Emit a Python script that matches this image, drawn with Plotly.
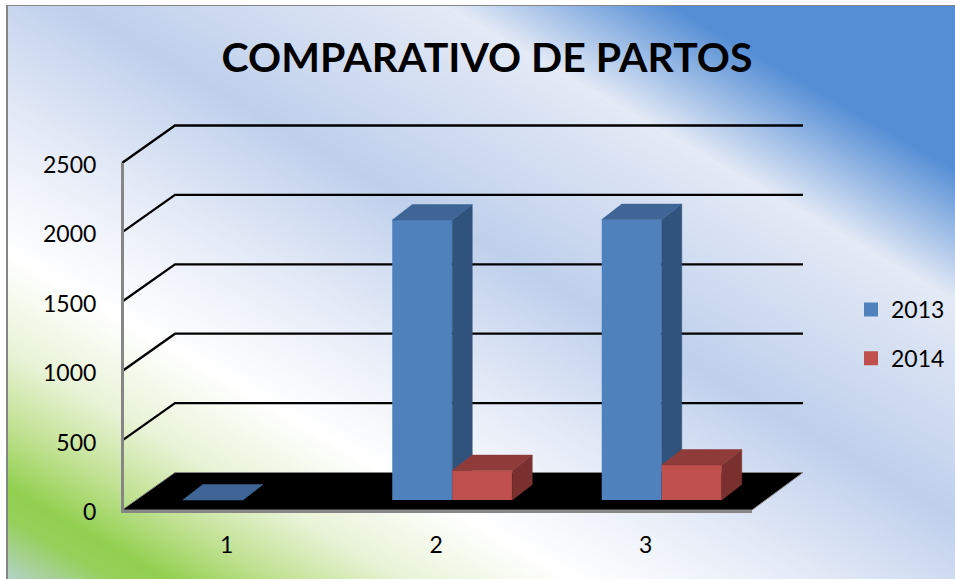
import base64, struct, zlib
import numpy as np
import plotly.graph_objects as go

# ---- data
categories = [1, 2, 3]
series_2013 = [0, 2017, 2020]
series_2014 = [None, 212, 252]
y_ticks = [0, 500, 1000, 1500, 2000, 2500]
title_text = "COMPARATIVO DE PARTOS"

W, H = 955, 579
FONT = "Lato"

# ---- background gradient (diagonal, PowerPoint-like)
stops_t = [-480, -331, -218, -30, 100, 215, 300, 360, 418, 445, 500]
stops_c = [(85,142,213),(85,142,213),(228,234,246),(191,208,236),(229,235,247),(255,255,255),
           (232,243,214),(195,226,150),(146,208,80),(150,208,90),(180,210,205)]
yy, xx = np.mgrid[0:H, 0:W]
t = -0.5 * xx + 0.866 * yy
img = np.stack([np.interp(t, stops_t, [c[i] for c in stops_c]) for i in range(3)], axis=-1)
img = img.round().astype(np.uint8)
img[:5, :] = 255
img[:, :6] = 255
img[5:6, 6:] = (134, 134, 134)
img[5:, 6:8] = (134, 134, 134)

def png_uri(a):
    h, w, _ = a.shape
    raw = b"".join(b"\x00" + a[i].tobytes() for i in range(h))
    def chunk(tag, d):
        return struct.pack(">I", len(d)) + tag + d + struct.pack(">I", zlib.crc32(tag + d) & 0xffffffff)
    png = b"\x89PNG\r\n\x1a\n" + chunk(b"IHDR", struct.pack(">IIBBBBB", w, h, 8, 2, 0, 0, 0)) \
        + chunk(b"IDAT", zlib.compress(raw, 9)) + chunk(b"IEND", b"")
    return "data:image/png;base64," + base64.b64encode(png).decode()

# ---- oblique projection, in axis units
PX_X = 1 / 209.5                        # category units per pixel
PX_Y = 2500 / 347                       # value units per pixel
X0 = 0.5
X1 = X0 + 630 * PX_X
DEPTH_X, DEPTH_Y = 53 * PX_X, 37.5 * PX_Y
BAR_W = 60 * PX_X
BAR_DX, BAR_DY = 20 * PX_X, 15.5 * PX_Y
BAR_BASE = 10 * PX_Y                    # bars stand inside the floor
GROUP_SHIFT = 16 * PX_X
AXIS_GRAY = "#868686"

fig = go.Figure()

# grid: oblique side wall + horizontal back wall (on a hidden full-page axis pair with the same scale)
gx, gy = [], []
for v in y_ticks[1:]:
    gx += [X0, X0 + DEPTH_X, X1 + DEPTH_X - 2 * PX_X, None]
    gy += [v, v + DEPTH_Y, v + DEPTH_Y, None]
fig.add_trace(go.Scatter(x=gx, y=gy, mode="lines", line=dict(color="black", width=2.3),
                         showlegend=False, hoverinfo="skip"))
# floor
fig.add_trace(go.Scatter(x=[X0, X0 + DEPTH_X, X1 + DEPTH_X - 2 * PX_X, X1, X0], y=[0, DEPTH_Y, DEPTH_Y, 0, 0],
                         mode="lines", fill="toself", fillcolor="black", line=dict(color=AXIS_GRAY, width=1),
                         showlegend=False, hoverinfo="skip"))

def add_series(name, values, offset, front, top, side, axis_n):
    xa, ya = f"x{axis_n}", f"y{axis_n}"
    fig.add_trace(go.Bar(name=name, x=categories, y=[None if not v else v - 2 * PX_Y for v in values],
                         base=BAR_BASE + 1 * PX_Y, offset=offset + PX_X, width=BAR_W - 2 * PX_X,
                         marker=dict(color=front, line=dict(color=front, width=2)),
                         xaxis=xa, yaxis=ya, legendgroup=name))
    for c, v in zip(categories, values):
        if v is None:
            continue
        xl = c + offset
        xr = xl + BAR_W
        yt = BAR_BASE + v
        fig.add_trace(go.Scatter(x=[xr, xr + BAR_DX, xr + BAR_DX, xr, xr],
                                 y=[BAR_BASE, BAR_BASE + BAR_DY, yt + BAR_DY, yt, BAR_BASE],
                                 mode="lines", fill="toself", fillcolor=side, line=dict(color=side, width=0.5),
                                 xaxis=xa, yaxis=ya, showlegend=False, hoverinfo="skip"))
        fig.add_trace(go.Scatter(x=[xl, xl + BAR_DX, xr + BAR_DX, xr, xl],
                                 y=[yt, yt + BAR_DY, yt + BAR_DY, yt, yt],
                                 mode="lines", fill="toself", fillcolor=top, line=dict(color=top, width=0.5),
                                 xaxis=xa, yaxis=ya, showlegend=False, hoverinfo="skip"))

add_series("2013", series_2013, GROUP_SHIFT - BAR_W, "#4F81BD", "#3E6595", "#30537D", 2)
add_series("2014", series_2014, GROUP_SHIFT, "#C0504D", "#8F3B39", "#7A302E", 3)

hidden = dict(visible=False, fixedrange=True)
x_dom = [124 / W, 752 / W]
x_rng = [X0 + 2 * PX_X, X1]
y_dom = [1 - 510 / H, 1 - 163 / H]
fig.update_layout(
    width=W, height=H, margin=dict(l=0, r=0, t=0, b=0, pad=0, autoexpand=False),
    paper_bgcolor="white", plot_bgcolor="rgba(0,0,0,0)",
    font=dict(family=FONT, color="black", size=23),
    images=[dict(source=png_uri(img), xref="paper", yref="paper", x=0, y=1, sizex=1, sizey=1,
                 xanchor="left", yanchor="top", sizing="stretch", layer="below")],
    title=dict(text=f"<b>{title_text}</b>", x=487 / W, xanchor="center", y=1 - 58 / H, yanchor="middle",
               font=dict(family=FONT, size=41, color="black")),
    # full-page hidden pair, same scale as the visible axes
    xaxis=dict(domain=[0, 1], range=[X0 - 122 * PX_X, X0 + (W - 122) * PX_X], anchor="y", **hidden),
    yaxis=dict(domain=[0, 1], range=[-(H - 510) * PX_Y, 510 * PX_Y], anchor="x", **hidden),
    xaxis2=dict(domain=x_dom, range=x_rng, anchor="y2", **hidden),
    yaxis2=dict(domain=y_dom, range=[0, 2500], anchor="x2", **hidden),
    xaxis3=dict(domain=x_dom, range=x_rng, tickvals=categories, showgrid=False, zeroline=False,
                showline=True, linecolor=AXIS_GRAY, linewidth=3, ticks="", ticklabelstandoff=12, anchor="y3"),
    yaxis3=dict(domain=y_dom, range=[0, 2500], tickvals=y_ticks, showgrid=False, zeroline=False,
                showline=True, linecolor=AXIS_GRAY, linewidth=3, ticks="", ticklabelstandoff=20,
                ticklabelshift=2, anchor="x3"),
    legend=dict(x=851 / W, y=1 - 288 / H, xanchor="left", yanchor="top", bgcolor="rgba(0,0,0,0)",
                font=dict(family=FONT, size=23, color="black"), tracegroupgap=16, traceorder="grouped",
                itemclick=False, itemdoubleclick=False),
    showlegend=True,
    barmode="overlay",
)

fig.write_html("out.html", post_script="document.body.style.margin='0';", config={"displayModeBar": False})
